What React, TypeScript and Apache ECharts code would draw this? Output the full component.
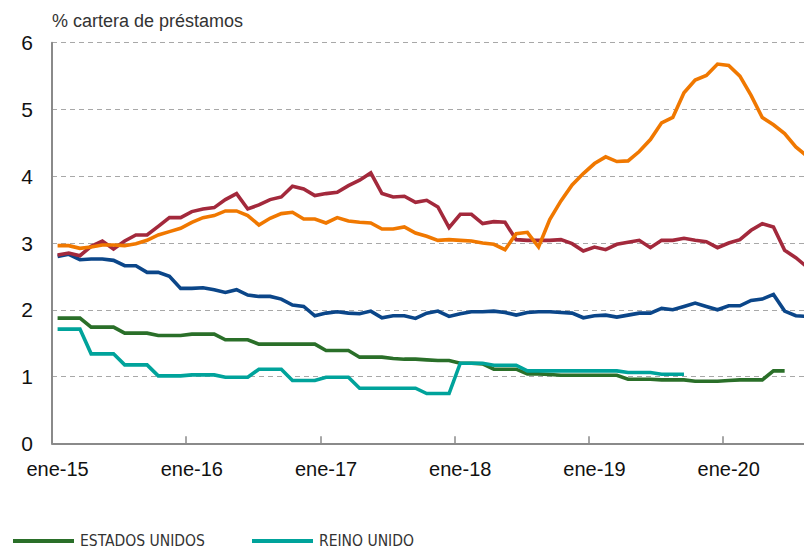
import React, { useEffect, useRef } from "react";
import * as echarts from "echarts";

const monthNames = ["ene", "feb", "mar", "abr", "may", "jun", "jul", "ago", "sep", "oct", "nov", "dic"];
const years = ["15", "16", "17", "18", "19", "20"];
const lastYearMonths = 8; // hasta ago-20

const categories: string[] = [];
years.forEach((y, yi) => {
  const n = yi === years.length - 1 ? lastYearMonths : 12;
  for (let m = 0; m < n; m++) categories.push(`${monthNames[m]}-${y}`);
});

const yTicks = [0, 1, 2, 3, 4, 5, 6];

const serieRoja = [
  2.82, 2.85, 2.81, 2.95, 3.03, 2.91, 3.03, 3.12, 3.12, 3.25, 3.38, 3.38,
  3.47, 3.51, 3.53, 3.65, 3.74, 3.51, 3.57, 3.65, 3.69, 3.85, 3.81, 3.71,
  3.74, 3.76, 3.86, 3.94, 4.05, 3.74, 3.69, 3.70, 3.61, 3.64, 3.54, 3.23,
  3.43, 3.43, 3.29, 3.32, 3.31, 3.05, 3.04, 3.04, 3.04, 3.05, 2.99, 2.88,
  2.94, 2.90, 2.98, 3.01, 3.04, 2.93, 3.04, 3.04, 3.07, 3.04, 3.02, 2.93,
  3.00, 3.05, 3.19, 3.29, 3.24, 2.89, 2.78, 2.64,
];

const serieNaranja = [
  2.96, 2.96, 2.92, 2.94, 2.97, 2.97, 2.96, 2.99, 3.04, 3.12, 3.17, 3.22,
  3.31, 3.38, 3.41, 3.48, 3.48, 3.41, 3.27, 3.37, 3.44, 3.46, 3.36, 3.36,
  3.30, 3.38, 3.33, 3.31, 3.30, 3.21, 3.21, 3.24, 3.15, 3.10, 3.04, 3.05,
  3.04, 3.03, 3.00, 2.98, 2.90, 3.14, 3.16, 2.94, 3.35, 3.63, 3.87, 4.04,
  4.19, 4.29, 4.22, 4.23, 4.37, 4.55, 4.80, 4.88, 5.25, 5.44, 5.51, 5.68,
  5.66, 5.50, 5.21, 4.88, 4.77, 4.64, 4.44, 4.30,
];

const serieAzul = [
  2.80, 2.83, 2.75, 2.76, 2.76, 2.74, 2.66, 2.66, 2.56, 2.56, 2.50, 2.32,
  2.32, 2.33, 2.30, 2.26, 2.30, 2.22, 2.20, 2.20, 2.16, 2.07, 2.05, 1.91,
  1.95, 1.97, 1.95, 1.94, 1.98, 1.88, 1.91, 1.91, 1.87, 1.95, 1.98, 1.90,
  1.94, 1.97, 1.97, 1.98, 1.96, 1.92, 1.96, 1.97, 1.97, 1.96, 1.95, 1.88,
  1.91, 1.92, 1.89, 1.92, 1.95, 1.95, 2.02, 2.00, 2.05, 2.10, 2.05, 2.00,
  2.06, 2.06, 2.14, 2.16, 2.23, 1.98, 1.91, 1.90,
];

const estadosUnidos: (number | null)[] = [
  1.875, 1.875, 1.875, 1.74, 1.74, 1.74, 1.65, 1.65, 1.65, 1.615, 1.615, 1.615,
  1.635, 1.635, 1.635, 1.55, 1.55, 1.55, 1.485, 1.485, 1.485, 1.485, 1.485, 1.485,
  1.39, 1.39, 1.39, 1.29, 1.29, 1.29, 1.27, 1.26, 1.26, 1.25, 1.24, 1.24,
  1.2, 1.2, 1.19, 1.11, 1.11, 1.11, 1.04, 1.04, 1.03, 1.02, 1.02, 1.02,
  1.02, 1.02, 1.02, 0.96, 0.96, 0.96, 0.95, 0.95, 0.95, 0.93, 0.93, 0.93,
  0.94, 0.95, 0.95, 0.95, 1.085, 1.085, null, null,
];

const reinoUnido: (number | null)[] = [
  1.71, 1.71, 1.71, 1.34, 1.34, 1.34, 1.175, 1.175, 1.175, 1.01, 1.01, 1.01,
  1.025, 1.025, 1.025, 0.99, 0.99, 0.99, 1.11, 1.11, 1.11, 0.94, 0.94, 0.94,
  0.99, 0.99, 0.99, 0.825, 0.825, 0.825, 0.825, 0.825, 0.825, 0.745, 0.745, 0.745,
  1.2, 1.2, 1.2, 1.17, 1.17, 1.17, 1.085, 1.085, 1.085, 1.085, 1.085, 1.085,
  1.085, 1.085, 1.085, 1.06, 1.06, 1.06, 1.035, 1.035, 1.035, null, null, null,
  null, null, null, null, null, null, null, null,
];

const COLORS = {
  rojo: "#a3293c",
  naranja: "#f07800",
  azul: "#0b4689",
  verde: "#2a6f29",
  turquesa: "#00a39b",
};

const narrowFont = "'Liberation Sans Narrow', 'DejaVu Sans Condensed', 'Arial Narrow', sans-serif";
const mainFont = "'Liberation Sans', Arial, Helvetica, sans-serif";

export default function App() {
  const ref = useRef<HTMLDivElement>(null);

  useEffect(() => {
    if (!ref.current) return;
    const chart = echarts.init(ref.current, undefined, { renderer: "svg" });

    const lineSeries = (name: string, data: (number | null)[], color: string, z: number) => ({
      name,
      type: "line",
      data,
      color,
      showSymbol: false,
      symbol: "none",
      connectNulls: false,
      z,
      lineStyle: { width: 3.6, color, join: "miter" },
      emphasis: { disabled: true },
    });

    const legendBase = {
      top: 533,
      itemWidth: 61,
      itemHeight: 4,
      itemGap: 10,
      icon: "rect",
      padding: 0,
      selectedMode: false,
      textStyle: { fontFamily: narrowFont, fontSize: 15.5, color: "#333333", padding: [0, 0, 0, 1] },
    };

    chart.setOption({
      animation: false,
      grid: {
        left: 52,
        top: 42.7,
        bottom: 111.7,
        right: -8.6,
        containLabel: false,
        outerBoundsMode: "none",
      },
      legend: [
        { ...legendBase, left: 13, data: ["ESTADOS UNIDOS"] },
        { ...legendBase, left: 252, data: ["REINO UNIDO"] },
      ],
      graphic: [
        {
          type: "text",
          x: 52,
          y: 20.5,
          style: {
            text: "% cartera de préstamos",
            fontFamily: mainFont,
            fontSize: 18,
            fill: "#333333",
            verticalAlign: "middle",
          },
        },
      ],
      xAxis: {
        type: "category",
        data: categories,
        boundaryGap: true,
        axisLine: { show: true, lineStyle: { color: "#8a8a8a", width: 2 } },
        axisTick: { show: true, inside: true, interval: 11, length: 7, lineStyle: { color: "#8a8a8a", width: 1.5 } },
        axisLabel: {
          interval: 11,
          margin: 16,
          fontFamily: mainFont,
          fontSize: 20,
          color: "#111111",
        },
        splitLine: { show: false },
      },
      yAxis: {
        type: "value",
        min: yTicks[0],
        max: yTicks[yTicks.length - 1],
        interval: 1,
        axisLine: { show: true, lineStyle: { color: "#8a8a8a", width: 2 } },
        axisTick: { show: false },
        axisLabel: {
          margin: 19,
          fontFamily: mainFont,
          fontSize: 21,
          color: "#111111",
        },
        splitLine: { show: true, lineStyle: { color: "#a8a8a8", width: 1.2, type: [5, 4] } },
      },
      series: [
        lineSeries("ESTADOS UNIDOS", estadosUnidos, COLORS.verde, 2),
        lineSeries("REINO UNIDO", reinoUnido, COLORS.turquesa, 3),
        lineSeries("Serie azul", serieAzul, COLORS.azul, 4),
        lineSeries("Serie roja", serieRoja, COLORS.rojo, 5),
        lineSeries("Serie naranja", serieNaranja, COLORS.naranja, 6),
      ],
    });

    return () => {
      chart.dispose();
    };
  }, []);

  return (
    <div
      ref={ref}
      style={{ position: "fixed", left: 0, top: 0, width: 804, height: 555, overflow: "hidden", background: "#ffffff" }}
    />
  );
}
